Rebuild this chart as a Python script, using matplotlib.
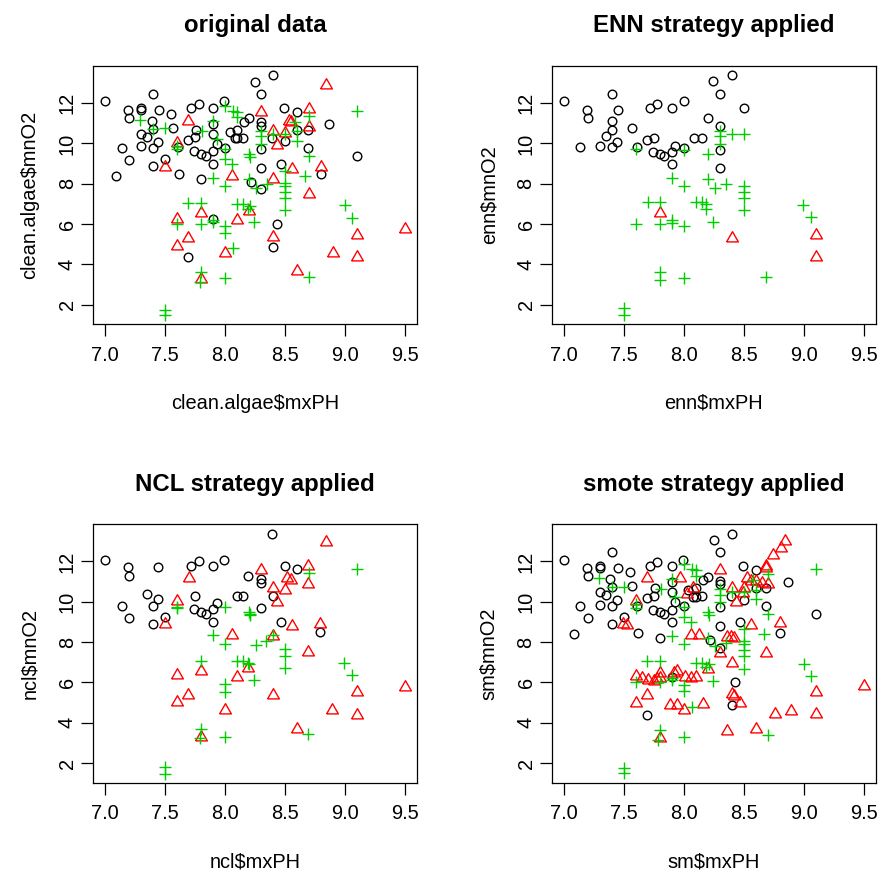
import numpy as np
import matplotlib
matplotlib.use("Agg")
import matplotlib.pyplot as plt

plt.rcParams['font.family'] = ['Liberation Sans', 'DejaVu Sans']

# ---- original data (clean.algae) ----
orig_circ_x = [7.00, 7.40, 7.19, 7.30, 7.30, 7.45, 7.20, 7.55, 7.39, 7.40, 7.57, 7.30, 7.35, 7.44,
               7.30, 7.40, 7.14, 7.20, 7.50, 7.40, 7.09, 7.62, 7.72, 7.78, 7.90, 7.99, 7.69, 7.75,
               7.76, 7.90, 7.90, 7.93, 7.74, 7.80, 7.84, 7.90, 7.90, 7.80, 8.04, 8.08, 8.40, 8.25,
               8.30, 8.49, 8.60, 8.87, 9.10, 8.16, 8.20, 8.10, 8.10, 8.15, 8.30, 8.30, 8.39, 8.50,
               8.30, 8.69, 8.60, 8.69, 8.30, 8.47, 8.22, 8.30, 8.80, 7.90, 7.69, 8.43, 8.40, 8.00, 7.61]
orig_circ_y = [12.08, 12.47, 11.67, 11.77, 11.67, 11.67, 11.27, 11.47, 11.12, 10.72, 10.77, 10.47,
               10.33, 10.08, 9.85, 9.77, 9.77, 9.18, 9.22, 8.87, 8.38, 8.47, 11.75, 11.97, 11.75,
               12.08, 10.18, 10.30, 10.67, 10.97, 10.47, 9.97, 9.60, 9.47, 9.38, 9.60, 8.97, 8.22,
               10.58, 10.25, 13.38, 13.05, 12.47, 11.77, 11.58, 10.97, 9.38, 11.08, 11.25, 10.68,
               10.25, 10.27, 11.05, 10.88, 10.27, 10.10, 9.72, 9.77, 10.67, 10.67, 8.80, 8.97, 8.08,
               7.72, 8.47, 6.27, 4.38, 6.00, 4.88, 9.77, 9.80]
orig_tri_x = [7.69, 7.60, 7.50, 8.06, 8.84, 8.30, 8.70, 8.53, 8.55, 8.70, 8.40, 8.50, 8.43, 8.56,
              8.80, 8.40, 8.70, 7.80, 7.60, 7.69, 7.60, 8.00, 7.80, 8.20, 8.10, 8.40, 9.10, 8.90,
              9.10, 8.60, 9.50]
orig_tri_y = [11.13, 10.02, 8.85, 8.38, 12.92, 11.55, 11.72, 11.13, 11.05, 10.80, 10.63, 10.52,
              9.92, 8.72, 8.85, 8.22, 7.47, 6.55, 6.27, 5.33, 4.93, 4.55, 3.25, 6.63, 6.22, 5.35,
              5.47, 4.55, 4.38, 3.65, 5.77]
orig_cross_x = [7.29, 7.40, 7.50, 7.60, 7.60, 7.90, 7.81, 7.93, 8.00, 8.00, 8.07, 8.00, 8.06, 7.90,
                8.00, 9.10, 8.10, 8.10, 8.30, 8.30, 8.30, 8.58, 8.60, 8.60, 8.70, 8.70, 8.20, 8.21,
                8.40, 8.50, 8.26, 8.35, 8.50, 8.50, 8.50, 8.50, 8.20, 7.69, 7.80, 7.60, 7.80, 7.90,
                8.00, 8.00, 8.07, 7.80, 7.79, 8.00, 7.50, 7.50, 8.10, 8.15, 8.21, 8.19, 8.24, 9.00,
                9.06, 8.70, 8.50, 8.50, 8.67, 7.90]
orig_cross_y = [11.17, 10.72, 10.75, 9.88, 9.70, 11.13, 10.63, 10.22, 9.72, 11.88, 11.63, 9.22,
                8.97, 8.30, 7.88, 11.60, 11.55, 11.30, 10.63, 10.35, 9.97, 11.08, 10.60, 10.13,
                11.38, 9.38, 9.47, 9.33, 10.47, 10.47, 7.80, 7.97, 7.88, 7.58, 7.30, 6.68, 8.22,
                7.05, 7.05, 6.00, 6.00, 6.12, 5.88, 5.55, 4.80, 3.63, 3.13, 3.30, 1.75, 1.50, 6.97,
                6.97, 6.90, 6.75, 6.08, 6.93, 6.30, 3.38, 8.63, 8.05, 8.38, 6.20]

# ---- ENN ----
enn_circ_x = [7.00, 7.40, 7.19, 7.20, 7.45, 7.40, 7.40, 7.57, 7.35, 7.44, 7.14, 7.30, 7.40, 7.72,
              7.78, 7.90, 8.00, 7.69, 7.75, 7.61, 7.74, 7.80, 7.84, 7.90, 7.93, 8.00, 7.90, 8.24,
              8.40, 8.30, 8.50, 8.20, 8.30, 8.09, 8.15, 8.30, 8.30]
enn_circ_y = [12.08, 12.47, 11.67, 11.27, 11.67, 11.13, 10.67, 10.77, 10.35, 10.08, 9.80, 9.88,
              9.80, 11.75, 11.97, 11.75, 12.08, 10.17, 10.27, 9.80, 9.58, 9.47, 9.38, 9.58, 9.88,
              9.77, 8.97, 13.08, 13.38, 12.47, 11.77, 11.27, 10.88, 10.27, 10.27, 9.67, 8.77]
enn_tri_x = [7.80, 8.40, 9.10, 9.10]
enn_tri_y = [6.55, 5.33, 5.47, 4.35]
enn_cross_x = [8.30, 8.30, 8.30, 8.40, 8.50, 7.60, 8.00, 8.20, 7.90, 8.00, 8.20, 8.26, 8.35, 8.50,
               8.50, 8.50, 8.50, 7.70, 7.80, 8.10, 8.15, 8.19, 8.19, 7.90, 7.90, 7.60, 7.80, 8.00,
               8.24, 8.99, 9.06, 7.80, 7.80, 8.00, 8.69, 7.50, 7.50]
enn_cross_y = [10.63, 10.35, 9.97, 10.47, 10.47, 9.72, 9.68, 9.47, 8.30, 7.88, 8.22, 7.80, 7.97,
               7.88, 7.58, 7.30, 6.68, 7.08, 7.08, 7.08, 7.08, 7.00, 6.75, 6.20, 6.05, 6.00, 6.00,
               5.88, 6.08, 6.93, 6.35, 3.63, 3.22, 3.30, 3.38, 1.83, 1.47]

# ---- NCL ----
ncl_circ_x = [7.00, 8.39, 7.19, 7.20, 7.44, 7.72, 7.78, 7.90, 7.99, 8.50, 8.60, 8.19, 8.30, 8.30,
              7.35, 7.44, 7.40, 7.14, 7.20, 7.50, 7.40, 7.75, 7.74, 7.80, 7.84, 7.90, 7.93, 7.90,
              8.10, 8.15, 8.30, 8.40, 8.47, 8.79]
ncl_circ_y = [12.08, 13.38, 11.70, 11.30, 11.70, 11.78, 12.00, 11.78, 12.08, 11.78, 11.62, 11.28,
              11.12, 10.92, 10.38, 10.12, 9.80, 9.80, 9.20, 9.22, 8.88, 10.30, 9.62, 9.47, 9.38,
              9.62, 9.92, 9.00, 10.30, 10.30, 9.70, 10.30, 9.00, 8.50]
ncl_tri_x = [8.84, 8.30, 8.69, 8.69, 8.52, 8.55, 8.50, 8.40, 8.43, 7.70, 7.60, 7.50, 8.06, 8.40,
             8.56, 8.79, 8.69, 8.19, 8.10, 7.80, 7.60, 7.69, 7.60, 8.00, 8.40, 8.89, 9.10, 9.10,
             8.60, 7.80, 9.50]
ncl_tri_y = [12.95, 11.58, 11.75, 10.87, 11.17, 11.08, 10.58, 10.67, 9.97, 11.17, 10.03, 8.87,
             8.37, 8.28, 8.78, 8.88, 7.50, 6.70, 6.28, 6.58, 6.38, 5.38, 5.00, 4.62, 5.38, 4.62,
             5.50, 4.38, 3.70, 3.30, 5.78]
ncl_cross_x = [9.10, 8.70, 7.60, 7.60, 8.00, 8.20, 8.21, 8.21, 7.90, 8.00, 8.26, 8.34, 8.40, 8.50,
               8.50, 8.50, 7.80, 8.10, 8.15, 8.19, 8.20, 8.24, 8.00, 8.00, 8.99, 9.06, 7.80, 7.79,
               8.00, 8.69, 7.50, 7.50]
ncl_cross_y = [11.62, 11.42, 9.75, 9.68, 9.72, 9.50, 9.40, 9.33, 8.33, 7.88, 7.83, 8.03, 8.33,
               7.67, 7.33, 6.70, 7.08, 7.08, 7.08, 6.97, 6.90, 6.12, 5.92, 5.53, 6.95, 6.38, 3.67,
               3.25, 3.30, 3.42, 1.78, 1.45]

# ---- smote (majority classes kept, minority oversampled) ----
sm_tri_x = [7.69, 7.60, 7.49, 7.53, 8.84, 8.81, 8.74, 8.69, 8.69, 8.30, 7.97, 8.53, 8.56, 8.60,
            8.65, 8.70, 8.40, 8.50, 8.49, 8.44, 8.08, 8.03, 8.56, 8.80, 8.06, 8.13, 8.36, 8.39,
            8.42, 7.60, 7.65, 7.70, 7.75, 7.78, 7.80, 7.80, 7.92, 7.69, 7.60, 7.89, 7.80, 8.69,
            8.40, 8.30, 7.94, 8.01, 8.06, 8.10, 8.20, 7.94, 8.00, 8.16, 8.40, 8.42, 8.47, 8.76,
            8.89, 9.10, 9.10, 9.50, 8.36, 8.60]
sm_tri_y = [11.17, 10.03, 8.87, 8.83, 13.00, 12.67, 12.33, 11.78, 11.68, 11.58, 11.17, 11.17,
            11.03, 11.03, 10.92, 10.87, 10.70, 10.67, 10.42, 10.00, 10.67, 10.38, 8.83, 8.92,
            8.35, 8.35, 8.25, 8.25, 8.22, 6.30, 6.20, 6.12, 6.05, 6.18, 6.45, 6.23, 6.45, 5.38,
            4.97, 4.88, 3.25, 7.45, 6.97, 7.47, 6.58, 6.28, 6.20, 6.28, 6.67, 4.87, 4.62, 4.92,
            5.42, 5.33, 4.97, 4.45, 4.58, 5.50, 4.42, 5.80, 3.58, 3.70]

panels = [
    ("original data", "clean.algae", orig_circ_x, orig_circ_y, orig_tri_x, orig_tri_y, orig_cross_x, orig_cross_y),
    ("ENN strategy applied", "enn", enn_circ_x, enn_circ_y, enn_tri_x, enn_tri_y, enn_cross_x, enn_cross_y),
    ("NCL strategy applied", "ncl", ncl_circ_x, ncl_circ_y, ncl_tri_x, ncl_tri_y, ncl_cross_x, ncl_cross_y),
    ("smote strategy applied", "sm", orig_circ_x, orig_circ_y, sm_tri_x, sm_tri_y, orig_cross_x, orig_cross_y),
]

# axis limits like R: data range + 4%
xall = orig_circ_x + orig_tri_x + orig_cross_x
yall = orig_circ_y + orig_tri_y + orig_cross_y
xr = (min(xall), max(xall))
yr = (min(yall), max(yall))
xlim = (xr[0] - 0.04 * (xr[1] - xr[0]), xr[1] + 0.04 * (xr[1] - xr[0]))
ylim = (yr[0] - 0.04 * (yr[1] - yr[0]), yr[1] + 0.04 * (yr[1] - yr[0]))

# R-like open triangle (pch = 2)
tri = [(-1, -0.577), (1, -0.577), (0, 1.155), (-1, -0.577)]

W, H = 879, 873
fig = plt.figure(figsize=(W / 100, H / 100), dpi=100)
boxes = [(93, 65.7), (551.7, 65.7), (93, 524), (551.7, 524)]
bw, bh = 324, 258.6

for (title, name, cx, cy, tx, ty, px, py), (bx, by) in zip(panels, boxes):
    ax = fig.add_axes([bx / W, 1 - (by + bh) / H, bw / W, bh / H])
    ax.plot(cx, cy, 'o', ms=6.2, mfc='none', mec='black', mew=1.0, ls='none')
    ax.plot(tx, ty, marker=tri, ms=9.8, mfc='none', mec='#FF0000', mew=1.0, ls='none')
    ax.plot(px, py, '+', ms=8.6, mec='#00CD00', mew=1.0, ls='none')
    ax.set_xlim(xlim)
    ax.set_ylim(ylim)
    ax.set_xticks([7.0, 7.5, 8.0, 8.5, 9.0, 9.5])
    ax.set_xticklabels(["7.0", "7.5", "8.0", "8.5", "9.0", "9.5"])
    ax.set_yticks([2, 4, 6, 8, 10, 12])
    ax.tick_params(direction='out', length=8.6, width=0.9, labelsize=14.4)
    ax.tick_params(axis='x', pad=7)
    ax.tick_params(axis='y', pad=3)
    for lab in ax.get_yticklabels():
        lab.set_rotation(90)
        lab.set_va('center')
    for s in ax.spines.values():
        s.set_linewidth(0.9)
    ax.text(0.5, 1 + 40 / bh, title, transform=ax.transAxes, ha='center', va='center',
            fontsize=17.3, fontweight='bold')
    ax.set_xlabel(name + r"\$mxPH", fontsize=14.4)
    ax.set_ylabel(name + r"\$mnO2", fontsize=14.4)
    ax.xaxis.label.set_va('center')
    ax.yaxis.label.set_va('center')
    ax.xaxis.set_label_coords(0.5, -79 / bh)
    ax.yaxis.set_label_coords(-63 / bw, 0.5)

fig.savefig("out.png", dpi=100)
